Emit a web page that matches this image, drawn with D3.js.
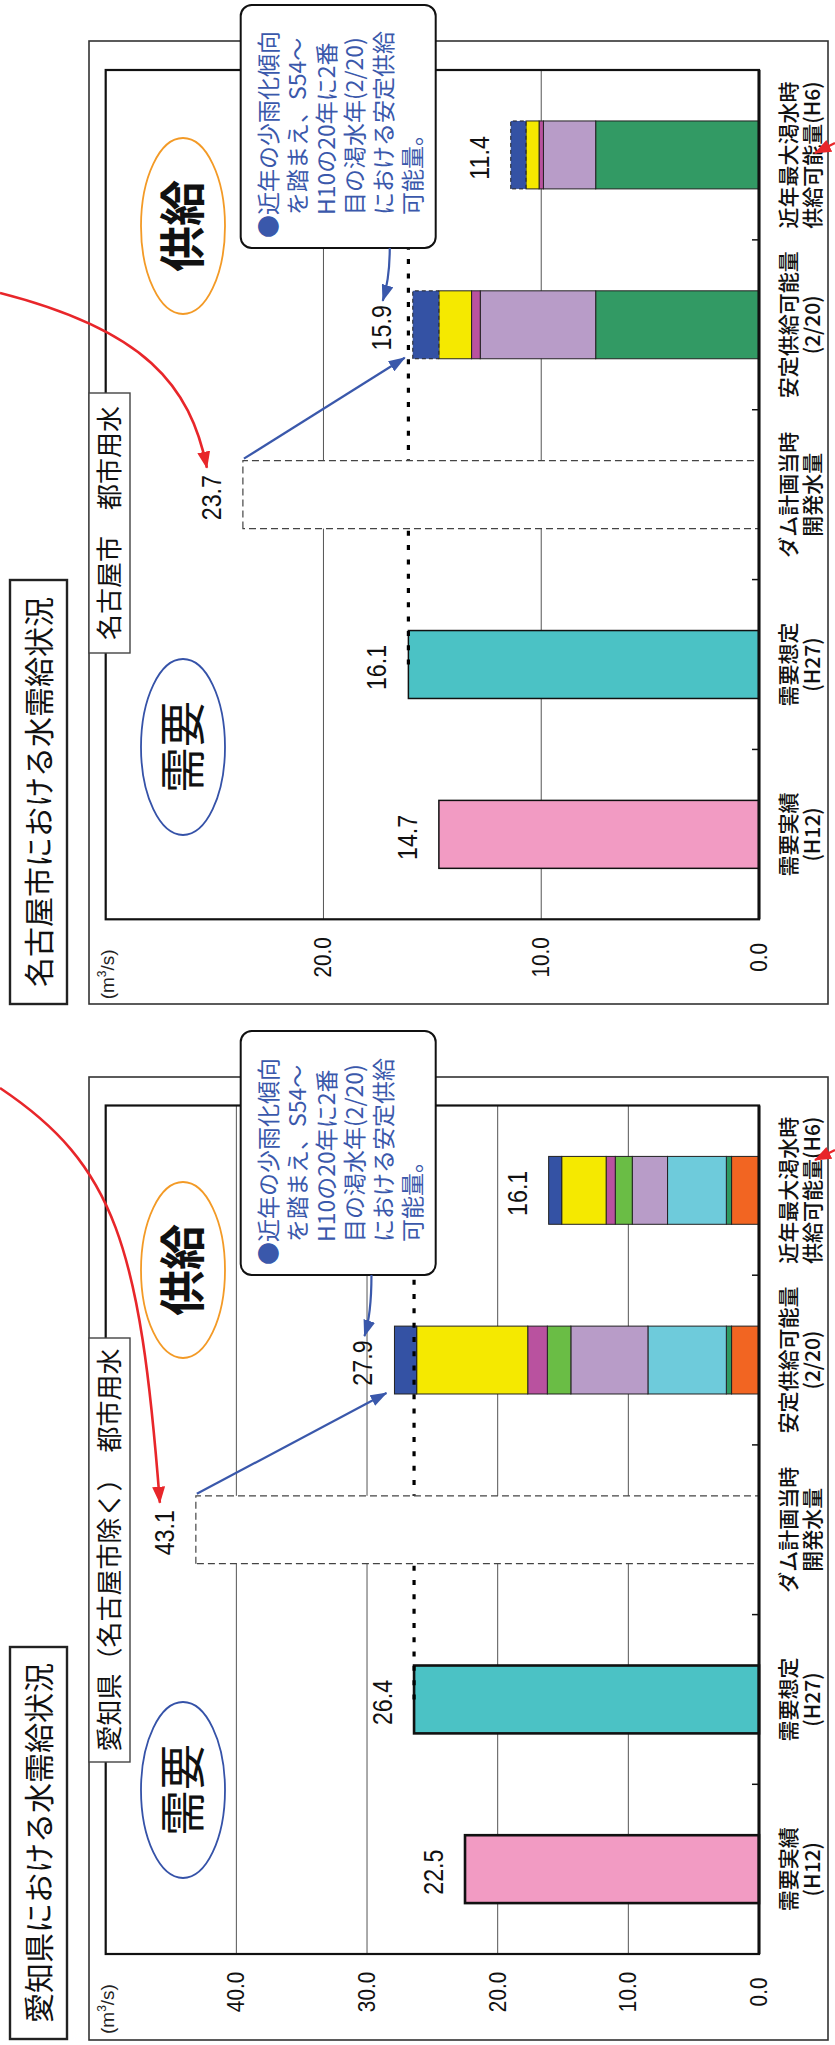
<!DOCTYPE html>
<html>
<head>
<meta charset="utf-8">
<script src="https://cdn.jsdelivr.net/npm/d3@7"></script>
<style>
html, body { margin: 0; padding: 0; background: #fff; }
svg { display: block; }
</style>
</head>
<body>
<script>
const W = 835, H = 2045;

// categories (two lines each)
const category_line1 = ["需要実績", "需要想定", "ダム計画当時", "安定供給可能量", "近年最大渇水時"];
const category_line2 = ["(H12)", "(H27)", "開発水量", "(2/20)", "供給可能量(H6)"];

// 愛知県（名古屋市除く）
const aichi_demand = [22.5, 26.4];
const aichi_dam = 43.1;
const aichi_stable = [2.1, 0.4, 6.0, 5.9, 1.8, 1.5, 8.5, 1.7];
const aichi_drought = [2.1, 0.4, 4.5, 2.7, 1.3, 0.7, 3.4, 1.0];
const aichi_colors = ["#f26522", "#2e9a62", "#6ecbdb", "#b89cc8", "#6abd45", "#b9529f", "#f5e900", "#3452a4"];
const aichi_ticks = [0, 10, 20, 30, 40];
const aichi_max = 50;

// 名古屋市
const nagoya_demand = [14.7, 16.1];
const nagoya_dam = 23.7;
const nagoya_stable = [7.5, 5.3, 0.4, 1.5, 1.2];
const nagoya_drought = [7.5, 2.4, 0.2, 0.6, 0.7];
const nagoya_colors = ["#329a64", "#b89cc8", "#b9529f", "#f5e900", "#3452a4"];
const nagoya_ticks = [0, 10, 20];
const nagoya_max = 30;

const demand_colors = ["#f29bc3", "#4bc2c5"];
const callout_lines = ["近年の少雨化傾向", "を踏まえ、S54～", "H10の20年に2番", "目の渇水年(2/20)", "における安定供給", "可能量。"];

const CJK = "'Noto Sans CJK JP', 'Noto Sans', sans-serif";
const NUM = "'Liberation Sans', Arial, sans-serif";
const BLUE = "#3a58ab";
const RED = "#e8262a";

// whole figure is drawn lying on its side, then turned
const svg = d3.select("body").append("svg").attr("width", W).attr("height", H);
const root = svg.append("g").attr("transform", `translate(0,${H}) rotate(-90)`);

const defs = svg.append("defs");
function add_marker(id, color, len, wid) {
    defs.append("marker")
        .attr("id", id)
        .attr("markerUnits", "userSpaceOnUse")
        .attr("viewBox", `0 0 ${len} ${wid}`)
        .attr("markerWidth", len)
        .attr("markerHeight", wid)
        .attr("refX", len - 1)
        .attr("refY", wid / 2)
        .attr("orient", "auto")
        .append("path")
        .attr("d", `M0,0 L${len},${wid / 2} L0,${wid} Z`)
        .attr("fill", color);
}
add_marker("arrow_blue", BLUE, 17, 12);
add_marker("arrow_red", RED, 17, 13);

const AXIS_V = 759;   // value 0
const TOP_V = 105.7;  // value max

function num_text(g, u, v, txt, size, sx) {
    g.append("text")
        .attr("transform", `translate(${u},${v}) scale(${sx},1)`)
        .attr("text-anchor", "middle")
        .style("font-family", NUM)
        .style("font-size", `${size}px`)
        .attr("fill", "#111")
        .text(txt);
}

function draw_chart(cfg) {
    const g = root.append("g");

    const x = d3.scaleBand()
        .domain(d3.range(category_line1.length))
        .range(cfg.plot_u)
        .paddingInner(0.6)
        .paddingOuter(0.3);
    const y = d3.scaleLinear().domain([0, cfg.max]).range([AXIS_V, TOP_V]);
    const bw = x.bandwidth();
    const step = x.step();

    // outer frame
    g.append("rect")
        .attr("x", cfg.frame_u[0]).attr("y", 89)
        .attr("width", cfg.frame_u[1] - cfg.frame_u[0]).attr("height", 828 - 89)
        .attr("fill", "none").attr("stroke", "#333").attr("stroke-width", 1.6);

    // title box
    g.append("rect")
        .attr("x", cfg.title_u[0]).attr("y", 10)
        .attr("width", cfg.title_u[1] - cfg.title_u[0]).attr("height", 57)
        .attr("fill", "#fff").attr("stroke", "#222").attr("stroke-width", 2.4);
    g.append("text")
        .attr("x", (cfg.title_u[0] + cfg.title_u[1]) / 2).attr("y", 50)
        .attr("text-anchor", "middle")
        .style("font-family", CJK).style("font-size", "30px")
        .attr("fill", "#111")
        .text(cfg.title);

    // grid
    g.selectAll(".grid")
        .data(cfg.ticks.filter(t => t > 0))
        .enter().append("line")
        .attr("x1", cfg.plot_u[0]).attr("x2", cfg.plot_u[1])
        .attr("y1", d => y(d)).attr("y2", d => y(d))
        .attr("stroke", "#555").attr("stroke-width", 1);

    // tick labels
    cfg.ticks.forEach(t => num_text(g, cfg.plot_u[0] - 38, y(t) + 8, t.toFixed(1), 23, 0.9));

    // unit label
    const unit = g.append("text")
        .attr("x", cfg.plot_u[0] - 80).attr("y", 114)
        .style("font-family", NUM).style("font-size", "19px")
        .attr("fill", "#222");
    unit.append("tspan").text("(m");
    unit.append("tspan").attr("dy", -8).style("font-size", "12px").text("3");
    unit.append("tspan").attr("dy", 8).text("/s)");

    // demand bars
    cfg.demand.forEach((d, i) => {
        g.append("rect")
            .attr("x", x(i)).attr("y", y(d))
            .attr("width", bw).attr("height", AXIS_V - y(d))
            .attr("fill", demand_colors[i])
            .attr("stroke", "#111").attr("stroke-width", cfg.demand_stroke);
    });

    // stacked supply bars
    [[3, cfg.stable], [4, cfg.drought]].forEach(([ci, parts]) => {
        const ends = d3.cumsum(parts);
        parts.forEach((p, k) => {
            const lo = k === 0 ? 0 : ends[k - 1];
            const seg = g.append("rect")
                .attr("x", x(ci)).attr("y", y(ends[k]))
                .attr("width", bw).attr("height", y(lo) - y(ends[k]))
                .attr("fill", cfg.colors[k])
                .attr("stroke", "#222").attr("stroke-width", 1);
            if (cfg.dashed_last && k === parts.length - 1) seg.attr("stroke-dasharray", "4,3");
        });
    });

    // dotted demand line
    g.append("line")
        .attr("x1", x(1) + bw / 2).attr("x2", cfg.plot_u[1])
        .attr("y1", y(cfg.demand[1])).attr("y2", y(cfg.demand[1]))
        .attr("stroke", "#000").attr("stroke-width", 3.2)
        .attr("stroke-dasharray", "5,9.3");

    // dam plan bar (dashed outline, white)
    g.append("rect")
        .attr("x", x(2)).attr("y", y(cfg.dam))
        .attr("width", bw).attr("height", AXIS_V - y(cfg.dam))
        .attr("fill", "#fff")
        .attr("stroke", "#444").attr("stroke-width", 1.2)
        .attr("stroke-dasharray", "7,4");

    // plot frame
    g.append("rect")
        .attr("x", cfg.plot_u[0]).attr("y", TOP_V)
        .attr("width", cfg.plot_u[1] - cfg.plot_u[0]).attr("height", AXIS_V - TOP_V)
        .attr("fill", "none").attr("stroke", "#111").attr("stroke-width", 2.2);
    g.append("line")
        .attr("x1", cfg.plot_u[0]).attr("x2", cfg.plot_u[1])
        .attr("y1", AXIS_V).attr("y2", AXIS_V)
        .attr("stroke", "#111").attr("stroke-width", 3);

    // category ticks
    d3.range(1, category_line1.length).forEach(i => {
        const u = cfg.plot_u[0] + i * step;
        g.append("line")
            .attr("x1", u).attr("x2", u)
            .attr("y1", AXIS_V).attr("y2", AXIS_V - 7)
            .attr("stroke", "#111").attr("stroke-width", 1.5);
    });

    // category labels
    category_line1.forEach((c, i) => {
        const cu = x(i) + bw / 2;
        g.append("text").attr("x", cu).attr("y", AXIS_V + 37)
            .attr("text-anchor", "middle")
            .style("font-family", CJK).style("font-size", "21px").style("font-weight", 500)
            .attr("fill", "#111")
            .text(c);
        g.append("text").attr("x", cu).attr("y", AXIS_V + 61)
            .attr("text-anchor", "middle")
            .style("font-family", CJK).style("font-size", "21px").style("font-weight", 500)
            .attr("fill", "#111")
            .text(category_line2[i]);
    });

    // value labels
    const totals = [cfg.demand[0], cfg.demand[1], cfg.dam, d3.sum(cfg.stable), d3.sum(cfg.drought)];
    totals.forEach((t, i) => {
        num_text(g, x(i) + bw / 2 - 3, y(t) - 22, t.toFixed(1), 27, 0.86);
    });

    // ellipses
    [[cfg.ellipse_u[0], "#3552a8", "需要", 400], [cfg.ellipse_u[1], "#f39a26", "供給", 700]].forEach(([eu, col, txt, wt]) => {
        g.append("ellipse")
            .attr("cx", eu).attr("cy", 183)
            .attr("rx", 88).attr("ry", 42)
            .attr("fill", "none").attr("stroke", col).attr("stroke-width", 1.8);
        g.append("text")
            .attr("x", eu).attr("y", 199)
            .attr("text-anchor", "middle")
            .style("font-family", CJK).style("font-size", "46px").style("font-weight", wt)
            .attr("fill", "#111")
            .text(txt);
    });

    // series label box
    g.append("rect")
        .attr("x", cfg.label_u[0]).attr("y", 89)
        .attr("width", cfg.label_u[1] - cfg.label_u[0]).attr("height", 41)
        .attr("fill", "#fff").attr("stroke", "#444").attr("stroke-width", 1.4);
    g.append("text")
        .attr("x", (cfg.label_u[0] + cfg.label_u[1]) / 2).attr("y", 119)
        .attr("text-anchor", "middle")
        .style("font-family", CJK).style("font-size", "26px").attr("fill", "#111")
        .text(cfg.label);

    // callout
    const c0 = cfg.callout_u[0], c1 = cfg.callout_u[1];
    g.append("rect")
        .attr("x", c0).attr("y", 240.7)
        .attr("width", c1 - c0).attr("height", 195)
        .attr("rx", 11).attr("ry", 11)
        .attr("fill", "#fff").attr("stroke", "#111").attr("stroke-width", 2);
    callout_lines.forEach((line, k) => {
        g.append("text")
            .attr("x", c0 + 33).attr("y", 277 + k * 28.8)
            .style("font-family", CJK).style("font-size", "23px")
            .attr("fill", BLUE)
            .text(line);
        if (k === 0) {
            g.append("text")
                .attr("x", c0 + 10).attr("y", 277)
                .style("font-family", CJK).style("font-size", "23px")
                .attr("fill", BLUE)
                .text("●");
        }
    });

    // blue arrows
    const stable_end = y(d3.sum(cfg.stable));
    g.append("line")
        .attr("x1", x(2) + bw + 2).attr("y1", y(cfg.dam) + 1)
        .attr("x2", x(3) + 1).attr("y2", stable_end - 8)
        .attr("stroke", BLUE).attr("stroke-width", 2.2)
        .attr("marker-end", "url(#arrow_blue)");
    const tip = [x(3) + bw - 10, stable_end - 30];
    const start = [c0, tip[1] + 7];
    g.append("path")
        .attr("d", `M${start[0]},${start[1]} Q${tip[0] + 22},${start[1]} ${tip[0]},${tip[1]}`)
        .attr("fill", "none").attr("stroke", BLUE).attr("stroke-width", 2.2)
        .attr("marker-end", "url(#arrow_blue)");

    // red arrows coming from outside the chart
    const rtip = [x(2) + bw / 2 + 27, y(cfg.dam) - 36];
    const r = cfg.red;
    g.append("path")
        .attr("d", `M${r[0]},0 C${r[1]},${r[2]} ${r[3]},${r[4]} ${rtip[0]},${rtip[1]}`)
        .attr("fill", "none").attr("stroke", RED).attr("stroke-width", 2.6)
        .attr("marker-end", "url(#arrow_red)");
    g.append("line")
        .attr("x1", cfg.red_small + 10).attr("y1", 835)
        .attr("x2", cfg.red_small).attr("y2", 815)
        .attr("stroke", RED).attr("stroke-width", 2.4)
        .attr("marker-end", "url(#arrow_red)");
}

draw_chart({
    title: "愛知県における水需給状況",
    label: "愛知県（名古屋市除く）　都市用水",
    demand: aichi_demand, dam: aichi_dam, stable: aichi_stable, drought: aichi_drought,
    colors: aichi_colors, ticks: aichi_ticks, max: aichi_max,
    demand_stroke: 2.6, dashed_last: false,
    frame_u: [5, 968], plot_u: [91, 939.5], title_u: [6, 398], label_u: [283, 707],
    ellipse_u: [255, 775], callout_u: [770, 1014],
    red: [957, 880, 115, 800, 140], red_small: 885
});

draw_chart({
    title: "名古屋市における水需給状況",
    label: "名古屋市　都市用水",
    demand: nagoya_demand, dam: nagoya_dam, stable: nagoya_stable, drought: nagoya_drought,
    colors: nagoya_colors, ticks: nagoya_ticks, max: nagoya_max,
    demand_stroke: 1.5, dashed_last: true,
    frame_u: [1041, 2004], plot_u: [1125.7, 1975], title_u: [1041, 1465], label_u: [1392, 1652],
    ellipse_u: [1298, 1819], callout_u: [1797, 2040],
    red: [1752, 1715, 145, 1660, 190], red_small: 1892
});
</script>
</body>
</html>
